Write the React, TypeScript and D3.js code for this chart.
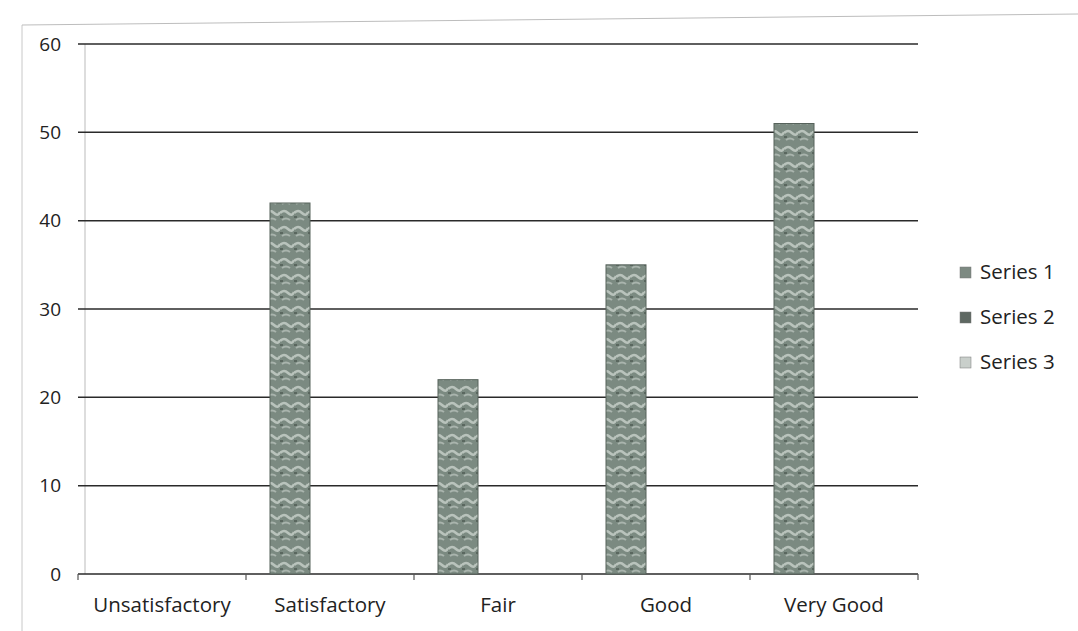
import React from "react";
import * as d3 from "d3";

const categories = ["Unsatisfactory", "Satisfactory", "Fair", "Good", "Very Good"];
const seriesNames = ["Series 1", "Series 2", "Series 3"];
const series1 = [0, 42, 22, 35, 51];
const series2 = [0, 0, 0, 0, 0];
const series3 = [0, 0, 0, 0, 0];
const yTicks = [0, 10, 20, 30, 40, 50, 60];

const W = 1078;
const H = 631;
const plot = { left: 78, right: 918, top: 44, bottom: 574 };
const font = "'Open Sans', 'Noto Sans', sans-serif";
const fills = ["url(#tex1)", "url(#tex2)", "url(#tex3)"];
const swatch = ["#7d8a82", "#5e6862", "#c9cfcb"];

export default function App() {
  const x = d3.scaleBand<string>().domain(categories).range([plot.left, plot.right]).padding(0);
  const xs = d3
    .scaleBand<string>()
    .domain(seriesNames)
    .range([0, x.bandwidth()])
    .paddingInner(0)
    .paddingOuter(0.6);
  const y = d3.scaleLinear().domain([0, 60]).range([plot.bottom, plot.top]);
  const data = [series1, series2, series3];
  const boundaries = [...categories.map((c) => x(c)!), plot.right];

  return (
    <svg
      width={W}
      height={H}
      style={{ position: "absolute", left: 0, top: 0, background: "#fff" }}
    >
      <defs>
        <pattern id="tex1" width="14" height="16" patternUnits="userSpaceOnUse">
          <rect width="14" height="16" fill="#7b8a81" />
          <path d="M0 5 Q4 1 8 5 T14 4" stroke="#b9c3bc" strokeWidth="2.5" fill="none" />
          <path d="M2 12 Q6 9 10 12" stroke="#a9b4ad" strokeWidth="2" fill="none" />
          <path d="M0 9 L3 9" stroke="#4f5b54" strokeWidth="1.5" />
        </pattern>
        <pattern id="tex2" width="14" height="16" patternUnits="userSpaceOnUse">
          <rect width="14" height="16" fill="#5e6862" />
          <path d="M0 5 Q4 1 8 5 T14 4" stroke="#8f9a93" strokeWidth="2" fill="none" />
        </pattern>
        <pattern id="tex3" width="14" height="16" patternUnits="userSpaceOnUse">
          <rect width="14" height="16" fill="#c2c9c4" />
          <path d="M0 5 Q4 1 8 5 T14 4" stroke="#e3e7e4" strokeWidth="2" fill="none" />
        </pattern>
      </defs>

      {/* chart frame */}
      <line x1={22} y1={25} x2={22} y2={H} stroke="#c8c8c8" strokeWidth={1} />
      <line x1={22} y1={25} x2={W} y2={14} stroke="#bdbdbd" strokeWidth={1} />

      {/* y axis line */}
      <line x1={85} y1={plot.top} x2={85} y2={plot.bottom} stroke="#bbb" strokeWidth={1} />

      {/* gridlines + y labels */}
      {yTicks.map((t) => (
        <g key={t}>
          <line
            x1={plot.left}
            x2={plot.right}
            y1={y(t)}
            y2={y(t)}
            stroke="#2a2a2a"
            strokeWidth={1.5}
          />
          <text
            x={61}
            y={y(t)}
            dy="0.35em"
            textAnchor="end"
            fontFamily={font}
            fontSize={19}
            fill="#222"
          >
            {t}
          </text>
        </g>
      ))}

      {/* x tick marks */}
      {boundaries.map((b, i) => (
        <line key={i} x1={b} x2={b} y1={plot.bottom} y2={plot.bottom + 6} stroke="#555" strokeWidth={1.2} />
      ))}

      {/* bars */}
      {categories.map((c, ci) =>
        seriesNames.map((s, si) => {
          const v = data[si][ci];
          if (!v) return null;
          const bx = x(c)! + xs(s)!;
          return (
            <rect
              key={c + s}
              x={bx}
              y={y(v)}
              width={xs.bandwidth()}
              height={y(0) - y(v)}
              fill={fills[si]}
              stroke="#56625b"
              strokeWidth={1}
            />
          );
        })
      )}

      {/* category labels */}
      {categories.map((c) => (
        <text
          key={c}
          x={x(c)! + x.bandwidth() / 2}
          y={605}
          textAnchor="middle"
          fontFamily={font}
          fontSize={20.5}
          fill="#222"
          dy="0.35em"
        >
          {c}
        </text>
      ))}

      {/* legend */}
      {seriesNames.map((s, i) => (
        <g key={s} transform={`translate(960, ${272 + i * 45})`}>
          <rect x={0} y={-5} width={11} height={11} fill={swatch[i]} stroke="#777" strokeWidth={0.5} />
          <text x={20} y={0} dy="0.35em" fontFamily={font} fontSize={20.5} fill="#222">
            {s}
          </text>
        </g>
      ))}
    </svg>
  );
}
